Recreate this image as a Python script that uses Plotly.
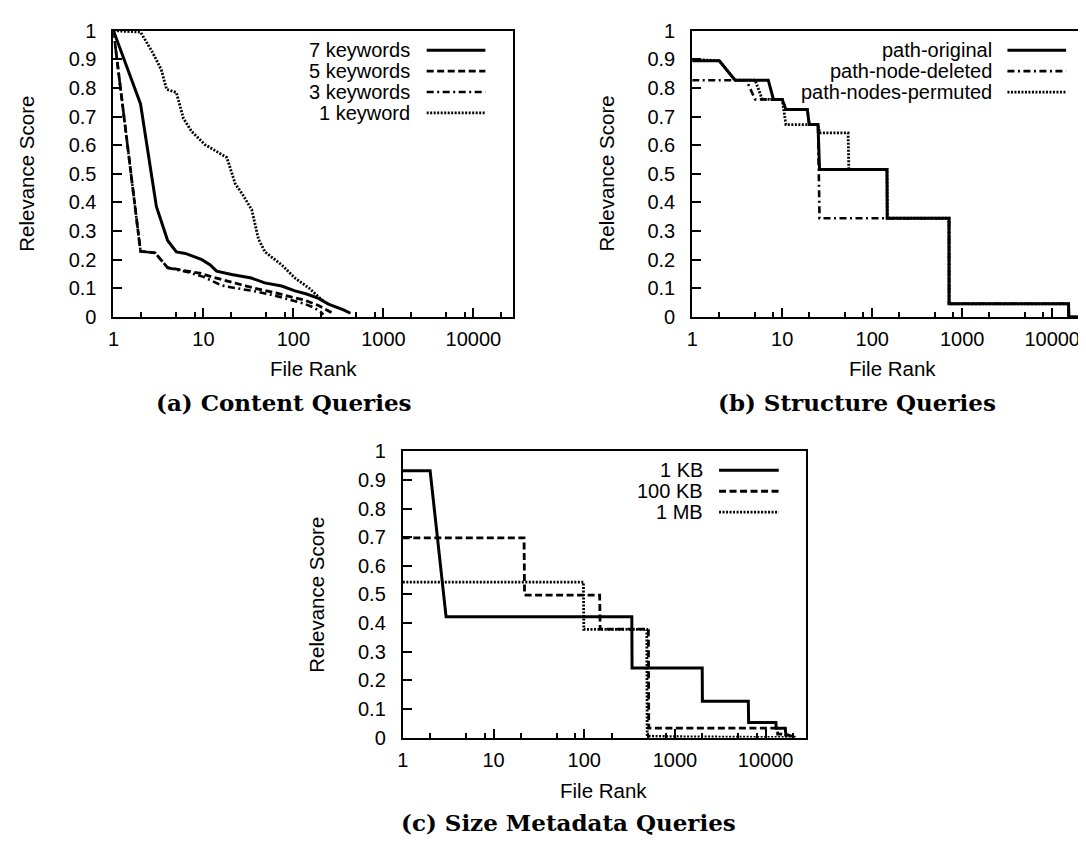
import plotly.graph_objects as go

# page geometry: the browser body keeps an 8px margin around the figure,
# so every page position below is shifted by that margin.
PAGE_W, PAGE_H = 1086, 853
OFF = 8
W, H = PAGE_W - OFF, PAGE_H - 2 * OFF

# ---------------- data ----------------
# (a) Content Queries
kw7_rank = [1, 2, 3, 4, 5, 6.3, 9.6, 11.9, 14, 20.6, 34, 48, 74, 104, 140, 190, 245, 300, 360, 430]
kw7_score = [1.0, 0.744, 0.386, 0.267, 0.227, 0.222, 0.2, 0.182, 0.16, 0.148, 0.136, 0.119, 0.108, 0.091, 0.08, 0.065, 0.045, 0.035, 0.025, 0.013]
kw5_rank = [1, 2, 2.9, 4, 5.4, 7, 9.4, 13, 16, 20, 30, 40, 60, 94, 130, 190, 240, 285]
kw5_score = [1.0, 0.229, 0.224, 0.172, 0.165, 0.16, 0.152, 0.138, 0.13, 0.122, 0.108, 0.098, 0.086, 0.07, 0.06, 0.04, 0.022, 0.01]
kw3_rank = [1, 2, 2.9, 4, 5.4, 7, 10, 13, 16, 20, 30, 40, 60, 94, 130, 170, 200, 215]
kw3_score = [1.0, 0.229, 0.224, 0.172, 0.163, 0.155, 0.14, 0.122, 0.11, 0.104, 0.095, 0.088, 0.076, 0.06, 0.047, 0.032, 0.018, 0.008]
kw1_rank = [1, 2, 2.7, 3.4, 3.9, 5, 6, 7.4, 10.4, 14.7, 18.2, 22.5, 26.7, 34.4, 40.8, 48.4, 74, 104, 150, 190, 215]
kw1_score = [1.0, 0.995, 0.926, 0.864, 0.795, 0.784, 0.693, 0.648, 0.602, 0.574, 0.557, 0.466, 0.432, 0.375, 0.273, 0.227, 0.182, 0.136, 0.1, 0.07, 0.055]

# (b) Structure Queries
orig_rank = [1, 2, 3, 7, 8, 10, 11, 19, 20, 25, 26, 146, 147, 714, 715, 15200, 15300, 40000]
orig_score = [0.895, 0.895, 0.827, 0.827, 0.76, 0.76, 0.725, 0.725, 0.672, 0.672, 0.515, 0.515, 0.345, 0.345, 0.046, 0.046, 0.0, 0.0]
del_rank = [1, 4, 5, 8, 10, 11, 19, 20, 25, 26, 146, 147, 714, 715, 15200, 15300, 40000]
del_score = [0.827, 0.827, 0.76, 0.76, 0.76, 0.725, 0.725, 0.672, 0.672, 0.345, 0.345, 0.345, 0.345, 0.046, 0.046, 0.0, 0.0]
perm_rank = [1, 2, 3, 5, 6, 10, 11, 25, 26, 54, 55, 146, 147, 714, 715, 15200, 15300, 40000]
perm_score = [0.9, 0.895, 0.827, 0.827, 0.76, 0.76, 0.672, 0.672, 0.643, 0.643, 0.515, 0.515, 0.345, 0.345, 0.046, 0.046, 0.0, 0.0]

# (c) Size Metadata Queries
kb1_rank = [1, 2, 3, 335, 337, 2000, 2010, 6450, 6500, 13000, 13100, 16500, 16700, 21300]
kb1_score = [0.932, 0.932, 0.422, 0.422, 0.243, 0.243, 0.127, 0.127, 0.053, 0.053, 0.033, 0.033, 0.012, 0.0]
kb100_rank = [1, 21.7, 22, 148, 150, 510, 515, 13500, 13600, 16500, 17000]
kb100_score = [0.698, 0.698, 0.498, 0.498, 0.379, 0.379, 0.033, 0.033, 0.012, 0.012, 0.0]
mb1_rank = [1, 98, 99, 490, 495, 1100, 21000]
mb1_score = [0.543, 0.543, 0.378, 0.378, 0.005, 0.003, 0.0]

major_ticks = [1, 10, 100, 1000, 10000]
major_text = ["1", "10", "100", "1000", "10000"]
minor_ticks = [m * 10 ** d for d in range(5) for m in (2, 5, 8)]
y_ticks = [i / 10 for i in range(11)]
y_text = ["0", "0.1", "0.2", "0.3", "0.4", "0.5", "0.6", "0.7", "0.8", "0.9", "1"]

# ---------------- styles ----------------
SOLID = "solid"
DASH = "7px,3.5px"
DASHDOT = "7px,3.5px,2px,3.5px"
DOT = "2px,1.5px"
SANS = "Liberation Sans, Arial, sans-serif"
SERIF = "DejaVu Serif, serif"
LW_SOLID, LW_DASH, LW_DASHDOT, LW_DOT = 3.0, 2.8, 2.6, 2.8
TICK_SIZE, TEXT_SIZE, CAP_SIZE = 20, 20.5, 23


def px(x):
    return (x - OFF) / W


def py(y):
    return 1 - (y - OFF) / H


fig = go.Figure()


def add(x, y, name, dash, width, ax):
    fig.add_trace(go.Scatter(
        x=x, y=y, mode="lines", name=name, showlegend=False,
        line=dict(color="black", width=width, dash=dash),
        xaxis="x" + ax, yaxis="y" + ax,
    ))


add(kw7_rank, kw7_score, "7 keywords", SOLID, LW_SOLID, "")
add(kw5_rank, kw5_score, "5 keywords", DASH, LW_DASH, "")
add(kw3_rank, kw3_score, "3 keywords", DASHDOT, LW_DASHDOT, "")
add(kw1_rank, kw1_score, "1 keyword", DOT, LW_DOT, "")

add(orig_rank, orig_score, "path-original", SOLID, LW_SOLID, "2")
add(del_rank, del_score, "path-node-deleted", DASHDOT, LW_DASHDOT, "2")
add(perm_rank, perm_score, "path-nodes-permuted", DOT, LW_DOT, "2")

add(kb1_rank, kb1_score, "1 KB", SOLID, LW_SOLID, "3")
add(kb100_rank, kb100_score, "100 KB", DASH, LW_DASH, "3")
add(mb1_rank, mb1_score, "1 MB", DOT, LW_DOT, "3")

# panel geometry in page pixels: (left, right, top, bottom, px per decade, right border)
panels = {
    "": (108, 510, 20, 314, 90.5, True),
    "2": (690, 1092, 20, 314, 90.5, False),
    "3": (399, 804, 452, 746, 91.2, True),
}

layout = dict(
    width=W, height=H, margin=dict(l=0, r=0, t=0, b=0),
    paper_bgcolor="white", plot_bgcolor="white", showlegend=False,
    font=dict(family=SANS, size=TICK_SIZE, color="black"),
)
for k, (l, r, t, b, dec, right_border) in panels.items():
    r_vis = min(r, OFF + W)
    layout["xaxis" + k] = dict(
        type="log", domain=[px(l), px(r_vis)], range=[0, (r_vis - l) / dec],
        anchor="y" + k,
        showline=True, linecolor="black", linewidth=2, mirror=True,
        showgrid=False, zeroline=False,
        tickmode="array", tickvals=major_ticks, ticktext=major_text,
        ticks="inside", ticklen=9, tickwidth=1.5, tickcolor="black",
        ticklabelstandoff=3, ticklabeloverflow="allow",
        minor=dict(tickmode="array", tickvals=minor_ticks, ticks="inside",
                   ticklen=5, tickwidth=1.5, tickcolor="black", showgrid=False),
        tickfont=dict(family=SANS, size=TICK_SIZE),
    )
    layout["yaxis" + k] = dict(
        domain=[py(b), py(t)], range=[0, 1], anchor="x" + k,
        showline=True, linecolor="black", linewidth=2, mirror=right_border,
        showgrid=False, zeroline=False,
        tickmode="array", tickvals=y_ticks, ticktext=y_text,
        ticks="inside", ticklen=9, tickwidth=1.5, tickcolor="black",
        ticklabelstandoff=11,
        tickfont=dict(family=SANS, size=TICK_SIZE),
    )

fig.update_layout(**layout)

annotations = []
shapes = []


def text(x, y, s, anchor="center", size=TEXT_SIZE, angle=0, family=SANS):
    annotations.append(dict(
        x=px(x), y=py(y), xref="paper", yref="paper", text=s, showarrow=False,
        xanchor=anchor, yanchor="middle", textangle=angle,
        font=dict(family=family, size=size, color="black"),
    ))


def legend(entries, text_right, line_x0, line_x1, rows):
    for (label, dash, width), yy in zip(entries, rows):
        text(text_right, yy, label, anchor="right", size=20)
        shapes.append(dict(
            type="line", xref="paper", yref="paper",
            x0=px(line_x0), x1=px(line_x1), y0=py(yy), y1=py(yy),
            line=dict(color="black", width=width, dash=dash),
        ))


legend([("7 keywords", SOLID, LW_SOLID), ("5 keywords", DASH, LW_DASH),
        ("3 keywords", DASHDOT, LW_DASHDOT), ("1 keyword", DOT, LW_DOT)],
       408, 423, 482, [40, 61.5, 83, 104.5])
legend([("path-original", SOLID, LW_SOLID), ("path-node-deleted", DASHDOT, LW_DASHDOT),
        ("path-nodes-permuted", DOT, LW_DOT)],
       993, 1007, 1066, [40, 61.5, 83])
legend([("1 KB", SOLID, LW_SOLID), ("100 KB", DASH, LW_DASH), ("1 MB", DOT, LW_DOT)],
       703, 717, 777, [471.5, 493, 514.5])

# axis titles
text(21, 167, "Relevance Score", angle=-90)
text(604, 167, "Relevance Score", angle=-90)
text(312, 599, "Relevance Score", angle=-90)
text(309, 367, "File Rank")
text(891, 367, "File Rank")
text(601, 800, "File Rank")

# captions
text(279, 402, "<b>(a) Content Queries</b>", size=CAP_SIZE, family=SERIF)
text(856, 402, "<b>(b) Structure Queries</b>", size=CAP_SIZE, family=SERIF)
text(566, 833, "<b>(c) Size Metadata Queries</b>", size=CAP_SIZE, family=SERIF)

fig.update_layout(annotations=annotations, shapes=shapes)
fig.write_html("out.html")
